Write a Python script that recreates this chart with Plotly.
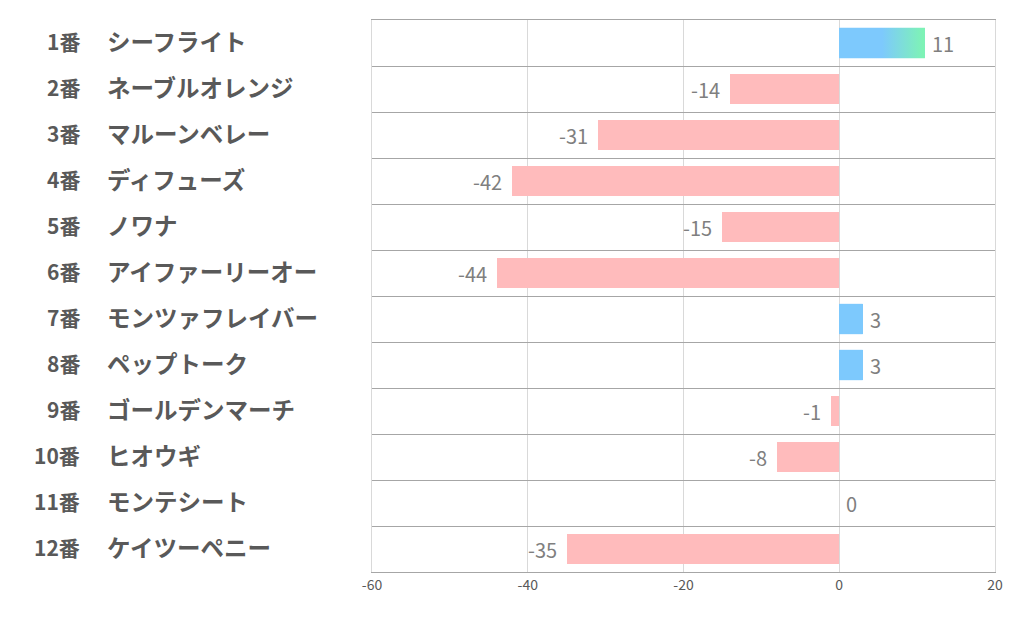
import plotly.graph_objects as go

numbers = ["1番", "2番", "3番", "4番", "5番", "6番", "7番", "8番", "9番", "10番", "11番", "12番"]
names = ["シーフライト", "ネーブルオレンジ", "マルーンベレー", "ディフューズ", "ノワナ", "アイファーリーオー",
         "モンツァフレイバー", "ペップトーク", "ゴールデンマーチ", "ヒオウギ", "モンテシート", "ケイツーペニー"]
values = [11, -14, -31, -42, -15, -44, 3, 3, -1, -8, 0, -35]
x_ticks = [-60, -40, -20, 0, 20]

PINK = "#ffbbbc"
BLUE = "#7dc9fd"
GREEN = "#7ef5b2"
BAR_W = 0.66
OFF = 8  # browser body margin

ypos = list(range(len(values)))
fig = go.Figure()

fig.add_trace(go.Bar(
    x=values, y=ypos, orientation="h", width=BAR_W,
    marker=dict(color=[BLUE if v > 0 else PINK for v in values], line=dict(width=0)),
    hoverinfo="skip", showlegend=False,
))

vmax = max(values)
for i, v in enumerate(values):
    if v > 0:
        fig.add_trace(go.Scatter(
            x=[0, v, v, 0, 0],
            y=[i - BAR_W / 2, i - BAR_W / 2, i + BAR_W / 2, i + BAR_W / 2, i - BAR_W / 2],
            mode="lines", line=dict(width=0), fill="toself",
            fillgradient=dict(type="horizontal", start=0, stop=vmax,
                              colorscale=[[0, BLUE], [0.5, BLUE], [1, GREEN]]),
            hoverinfo="skip", showlegend=False,
        ))

L, R, T, B = 372, 995, 20, 572
W = R - L
annotations = []
for i, v in enumerate(values):
    annotations.append(dict(x=v, y=i, xref="x", yref="y", text=str(v), showarrow=False,
                            xanchor="right" if v < 0 else "left", yanchor="middle",
                            xshift=-8 if v < 0 else 5, yshift=0,
                            font=dict(family="Noto Sans CJK JP", size=20, color="#7f7f7f")))
for i, (n, nm) in enumerate(zip(numbers, names)):
    annotations.append(dict(x=(82 - L) / W, y=i, xref="paper", yref="y", text=n, showarrow=False,
                            xanchor="right", yanchor="middle", yshift=2,
                            font=dict(family="Noto Sans CJK JP", size=21, color="#595959", weight="bold")))
    annotations.append(dict(x=(105 - L) / W, y=i, xref="paper", yref="y", text=nm, showarrow=False,
                            xanchor="left", yanchor="middle", yshift=2,
                            font=dict(family="Noto Sans CJK JP", size=23.5, color="#595959", weight="bold")))

fig.update_layout(
    width=1022, height=626,
    margin=dict(l=L - OFF, r=1022 - R + OFF, t=T - OFF, b=626 - B + OFF),
    paper_bgcolor="white", plot_bgcolor="white",
    annotations=annotations,
    bargap=0,
    xaxis=dict(range=[-60, 20], tickvals=x_ticks, ticktext=[str(t) for t in x_ticks],
               showgrid=True, gridcolor="#d9d9d9", gridwidth=1, zeroline=False,
               tickfont=dict(family="Noto Sans CJK JP", size=14, color="#595959"),
               ticks="", showline=True, mirror=True, linecolor="#a6a6a6", linewidth=1,
               fixedrange=True),
    yaxis=dict(range=[len(values) - 0.5, -0.5], tickvals=[k - 0.5 for k in range(len(values) + 1)],
               showticklabels=False, showgrid=True, gridcolor="#a6a6a6", gridwidth=1,
               zeroline=False, ticks="", showline=True, mirror=True, linecolor="#d9d9d9",
               linewidth=1, fixedrange=True),
)

fig.write_html("out.html")
